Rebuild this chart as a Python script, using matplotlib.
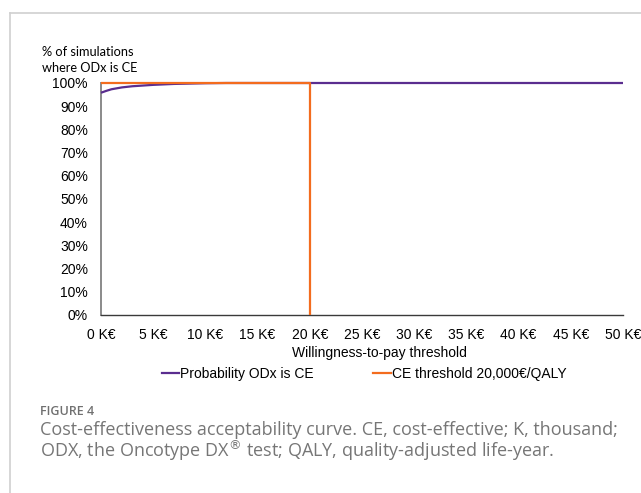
import matplotlib
matplotlib.use("Agg")
import matplotlib.pyplot as plt
from matplotlib.lines import Line2D

# Data
wtp_k = [0, 0.5, 1, 1.5, 2, 3, 4, 5, 6, 7, 8, 10, 12, 15, 20, 30, 40, 50]
prob_ce = [0.958, 0.966, 0.973, 0.977, 0.981, 0.986, 0.989, 0.992, 0.994, 0.996, 0.997, 0.999, 1.0, 1.0, 1.0, 1.0, 1.0, 1.0]
threshold_x = [0, 20, 20]
threshold_y = [1.0, 1.0, 0.0]
xticks = [0, 5, 10, 15, 20, 25, 30, 35, 40, 45, 50]
yticks = [0, 0.1, 0.2, 0.3, 0.4, 0.5, 0.6, 0.7, 0.8, 0.9, 1.0]
legend_labels = ["Probability ODx is CE", "CE threshold 20,000€/QALY"]

W, H = 641, 493
plt.rcParams['font.family'] = ['Liberation Sans', 'DejaVu Sans']
fig = plt.figure(figsize=(W/100, H/100), dpi=100)

def fx(px):
    return px / W
def fy(py):
    return 1 - py / H

# frame border (page panel)
fig.add_artist(Line2D([fx(9.5), 1.01], [fy(12.5), fy(12.5)], transform=fig.transFigure, color='#d0d0d0', lw=1.2))
fig.add_artist(Line2D([fx(9.5), fx(9.5)], [fy(12.5), -0.01], transform=fig.transFigure, color='#d0d0d0', lw=1.2))

ax_l, ax_r, ax_t, ax_b = 101, 623, 83, 315
ax = fig.add_axes([fx(ax_l), fy(ax_b), (ax_r-ax_l)/W, (ax_b-ax_t)/H])

purple = '#5a2d8f'
orange = '#f36c1e'
ax.plot(wtp_k, prob_ce, color=purple, lw=1.6, solid_capstyle='butt', zorder=3, clip_on=False)
ax.plot(threshold_x, threshold_y, color=orange, lw=1.6, solid_capstyle='butt', zorder=4, clip_on=False)

ax.set_xlim(0, 50)
ax.set_ylim(0, 1.0)
ax.set_xticks(xticks)
ax.set_xticklabels([f"{v} K€" for v in xticks])
ax.set_yticks(yticks)
ax.set_yticklabels([f"{int(round(v*100))}%" for v in yticks])
for s in ['top', 'right']:
    ax.spines[s].set_visible(False)
ax.spines['left'].set_color('#8a8a8a')
ax.spines['bottom'].set_color('#3a3a3a')
ax.spines['left'].set_linewidth(1.4)
ax.spines['bottom'].set_linewidth(1.0)
ax.tick_params(length=0, labelsize=10, colors='black')
ax.tick_params(axis='x', pad=9.5)
ax.tick_params(axis='y', pad=9.4)
ax.patch.set_alpha(0)

lab_fam = ['Lato', 'DejaVu Sans']
fig.text(fx(42), fy(55.7), "% of simulations", fontsize=9.2, ha='left', va='baseline', family=lab_fam)
fig.text(fx(42), fy(71.7), "where ODx is CE", fontsize=9.2, ha='left', va='baseline', family=lab_fam)
fig.text(fx(379), fy(353), "Willingness-to-pay threshold", fontsize=10, ha='center', va='center')

# legend
handles = [Line2D([0], [0], color=purple, lw=1.6), Line2D([0], [0], color=orange, lw=1.6)]
fig.legend(handles, legend_labels, loc='center',
           bbox_to_anchor=(fx(364), fy(374)), ncol=2, frameon=False, fontsize=10,
           handlelength=1.25, handletextpad=0.08, columnspacing=4.3, borderpad=0, borderaxespad=0)

cap_fam = ['Open Sans', 'DejaVu Sans']
fig.text(fx(40), fy(415), "FIGURE 4", fontsize=9, color='#707070', ha='left', va='baseline',
         family=cap_fam, fontweight='semibold')
fig.text(fx(40), fy(435), "Cost-effectiveness acceptability curve. CE, cost-effective; K, thousand;",
         fontsize=13, color='#767676', ha='left', va='baseline', family=cap_fam)
fig.text(fx(40), fy(457), "ODX, the Oncotype DX$^{®}$ test; QALY, quality-adjusted life-year.",
         fontsize=13, color='#767676', ha='left', va='baseline', family=cap_fam)

fig.savefig("out.png", dpi=100)
